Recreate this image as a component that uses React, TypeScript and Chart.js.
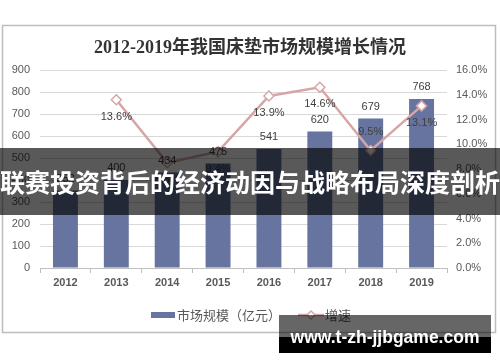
import React, { useEffect, useRef } from "react";
import { Chart, registerables } from "chart.js";

Chart.register(...registerables);

const titleText = "2012-2019年我国床垫市场规模增长情况";
const years = ["2012", "2013", "2014", "2015", "2016", "2017", "2018", "2019"];
const marketSize = [352, 400, 434, 475, 541, 620, 679, 768];
const growthRate: (number | null)[] = [null, 13.6, 8.5, 9.4, 13.9, 14.6, 9.5, 13.1];
const growthLabelAbove = [false, false, false, false, false, false, true, false];
const barSeriesName = "市场规模（亿元）";
const lineSeriesName = "增速";
const bannerText = "联赛投资背后的经济动因与战略布局深度剖析";
const watermarkText = "www.t-zh-jjbgame.com";

const BAR_COLOR = "#66749F";
const LINE_COLOR = "#D6A6A6";
const TEXT_COLOR = "#595959";
const LABEL_COLOR = "#404040";
const SANS = "'Liberation Sans', Arial, 'Noto Sans CJK SC', sans-serif";
const CJK = "'Noto Sans CJK SC', 'Liberation Sans', sans-serif";

const decorPlugin = {
  id: "decor",
  beforeDraw(chart: any) {
    const ctx = chart.ctx;
    ctx.save();
    ctx.fillStyle = "#ffffff";
    ctx.fillRect(0, 0, chart.width, chart.height);
    ctx.strokeStyle = "#BDBDBD";
    ctx.lineWidth = 1.5;
    ctx.strokeRect(2.5, 25.5, 493, 307);
    ctx.fillStyle = "#333333";
    ctx.font = "bold 18px 'Liberation Serif', 'Noto Sans CJK SC', serif";
    ctx.textAlign = "center";
    ctx.textBaseline = "middle";
    ctx.fillText(titleText, 250, 48);
    ctx.restore();
  },
  afterDatasetsDraw(chart: any) {
    const ctx = chart.ctx;
    ctx.save();
    ctx.font = `11px ${SANS}`;
    ctx.fillStyle = LABEL_COLOR;
    ctx.textAlign = "center";
    ctx.textBaseline = "middle";
    const barMeta = chart.getDatasetMeta(0);
    barMeta.data.forEach((el: any, i: number) => {
      ctx.fillText(String(marketSize[i]), el.x, el.y - 12);
    });
    const lineMeta = chart.getDatasetMeta(1);
    lineMeta.data.forEach((el: any, i: number) => {
      const v = growthRate[i];
      if (v == null) return;
      const dy = growthLabelAbove[i] ? -18 : 17;
      ctx.fillText(v.toFixed(1) + "%", el.x, el.y + dy);
    });
    ctx.restore();
  },
  afterDraw(chart: any) {
    const ctx = chart.ctx;
    ctx.save();
    const ly = 315;
    ctx.fillStyle = BAR_COLOR;
    ctx.fillRect(151, ly - 3, 24, 6);
    ctx.fillStyle = TEXT_COLOR;
    ctx.font = `13px ${CJK}`;
    ctx.textAlign = "left";
    ctx.textBaseline = "middle";
    ctx.fillText(barSeriesName, 177, ly);
    ctx.strokeStyle = LINE_COLOR;
    ctx.lineWidth = 2.5;
    ctx.beginPath();
    ctx.moveTo(298, ly);
    ctx.lineTo(324, ly);
    ctx.stroke();
    ctx.fillStyle = "#ffffff";
    ctx.lineWidth = 1.5;
    ctx.beginPath();
    ctx.moveTo(311, ly - 4);
    ctx.lineTo(315, ly);
    ctx.lineTo(311, ly + 4);
    ctx.lineTo(307, ly);
    ctx.closePath();
    ctx.fill();
    ctx.stroke();
    ctx.fillStyle = TEXT_COLOR;
    ctx.fillText(lineSeriesName, 325, ly);
    ctx.restore();
  },
};

export default function App() {
  const canvasRef = useRef<HTMLCanvasElement | null>(null);

  useEffect(() => {
    if (!canvasRef.current) return;
    const chart = new Chart(canvasRef.current, {
      type: "bar",
      data: {
        labels: years,
        datasets: [
          {
            type: "bar",
            label: barSeriesName,
            data: marketSize,
            backgroundColor: BAR_COLOR,
            barPercentage: 0.49,
            categoryPercentage: 1,
            yAxisID: "y",
            order: 2,
          },
          {
            type: "line",
            label: lineSeriesName,
            data: growthRate as any,
            borderColor: LINE_COLOR,
            borderWidth: 2.5,
            pointStyle: "rectRot",
            pointRadius: 5,
            pointBackgroundColor: "#ffffff",
            pointBorderColor: LINE_COLOR,
            pointBorderWidth: 1.5,
            yAxisID: "y1",
            order: 1,
          } as any,
        ],
      },
      options: {
        responsive: false,
        animation: false,
        layout: { padding: { top: 70, left: 0, right: 0, bottom: 0 } },
        plugins: {
          legend: { display: false },
          title: { display: false },
          tooltip: { enabled: false },
        },
        scales: {
          x: {
            offset: true,
            grid: {
              offset: true,
              drawOnChartArea: false,
              drawTicks: true,
              tickLength: 5,
              color: "#BFBFBF",
            },
            border: { display: true, color: "#BFBFBF", width: 1 },
            ticks: {
              color: TEXT_COLOR,
              padding: 3,
              font: { size: 11, weight: "bold", family: SANS },
            },
            afterFit: (s: any) => {
              s.height = 94;
            },
          },
          y: {
            position: "left",
            min: 0,
            max: 900,
            ticks: {
              stepSize: 100,
              color: TEXT_COLOR,
              padding: 10,
              font: { size: 11, family: SANS },
            },
            grid: { color: "#D9D9D9", drawTicks: false },
            border: { display: false },
            afterFit: (s: any) => {
              s.width = 40;
            },
          },
          y1: {
            position: "right",
            min: 0,
            max: 16,
            ticks: {
              stepSize: 2,
              color: TEXT_COLOR,
              padding: 9,
              font: { size: 11, family: SANS },
              callback: (v: any) => Number(v).toFixed(1) + "%",
            },
            grid: { drawOnChartArea: false, drawTicks: false },
            border: { display: false },
            afterFit: (s: any) => {
              s.width = 53;
            },
          },
        },
      } as any,
      plugins: [decorPlugin],
    });
    return () => chart.destroy();
  }, []);

  return (
    <div
      style={{
        position: "fixed",
        left: 0,
        top: 0,
        width: 500,
        height: 362,
        background: "#ffffff",
        overflow: "hidden",
      }}
    >
      <canvas
        ref={canvasRef}
        width={500}
        height={362}
        style={{ width: 500, height: 362, display: "block" }}
      />
      <div
        style={{
          position: "absolute",
          left: 0,
          top: 148,
          width: 500,
          height: 67,
          background: "rgba(0,0,0,0.65)",
          display: "flex",
          alignItems: "center",
          justifyContent: "center",
          whiteSpace: "nowrap",
          overflow: "visible",
        }}
      >
        <span
          style={{
            color: "#ffffff",
            fontFamily: CJK,
            fontWeight: 700,
            fontSize: 25,
            lineHeight: "25px",
          }}
        >
          {bannerText}
        </span>
      </div>
      <div
        style={{
          position: "absolute",
          left: 279,
          top: 315,
          width: 212,
          height: 22,
          background: "rgba(0,0,0,0.6)",
        }}
      />
      <div
        style={{
          position: "absolute",
          left: 279,
          top: 337,
          width: 212,
          height: 16,
          background: "#000000",
        }}
      />
      <div
        style={{
          position: "absolute",
          left: 279,
          top: 325,
          width: 212,
          height: 24,
          display: "flex",
          alignItems: "center",
          justifyContent: "center",
          color: "#ffffff",
          fontFamily: SANS,
          fontWeight: 700,
          fontSize: 17.5,
          whiteSpace: "nowrap",
        }}
      >
        {watermarkText}
      </div>
    </div>
  );
}
